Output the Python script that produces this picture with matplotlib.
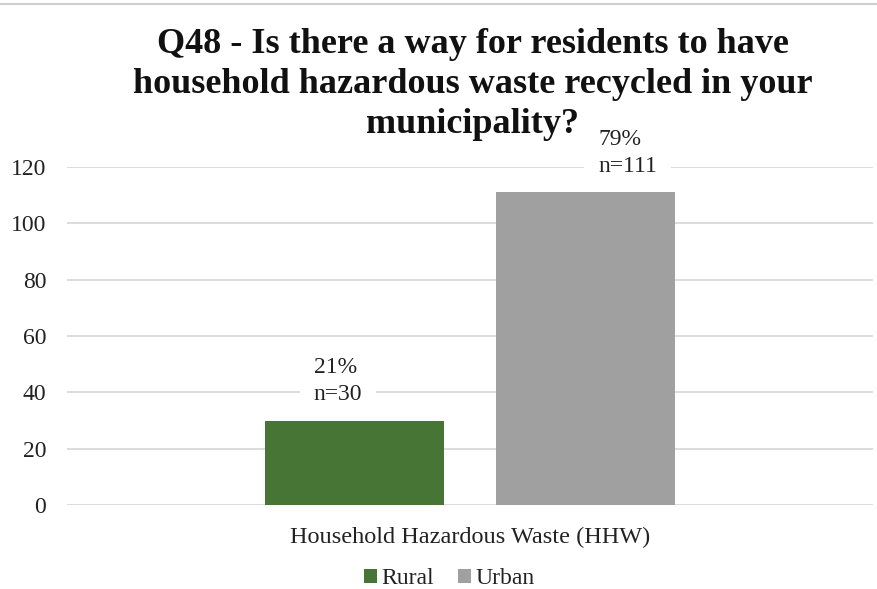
import matplotlib
matplotlib.use("Agg")
import matplotlib.pyplot as plt
from matplotlib.lines import Line2D
from matplotlib.patches import Patch

plt.rcParams['font.family'] = ['Liberation Serif', 'DejaVu Serif']

title_lines = ["Q48 - Is there a way for residents to have",
               "household hazardous waste recycled in your",
               "municipality?"]
category = "Household Hazardous Waste (HHW)"
series = ["Rural", "Urban"]
values = [30, 111]
percents = ["21%", "79%"]
colors = ["#477535", "#a0a0a0"]
yticks = [0, 20, 40, 60, 80, 100, 120]

fig = plt.figure(figsize=(8.78, 5.89), dpi=100)
ax = fig.add_axes([67/878, 1-505/589, (873-67)/878, (505-167)/589])

offsets = [-0.143, 0.143]
width = 0.222
label_dx = [-41, 13]  # pixel offsets of label left edge from bar center
for i, (s, v, p, c) in enumerate(zip(series, values, percents, colors)):
    ax.bar(offsets[i], v, width=width, color=c, label=s, zorder=2)
    ax.annotate(f"{p}\nn={v}", xy=(offsets[i], v), xytext=(label_dx[i], 15),
                textcoords='offset pixels', ha='left', va='bottom',
                multialignment='left', fontsize=17, color='#222222',
                linespacing=1.4, zorder=3,
                bbox=dict(boxstyle='square,pad=0.6', fc='white', ec='none'))

ax.set_xlim(-0.5, 0.5)
ax.set_ylim(0, 120)
ax.set_yticks(yticks)
ax.set_xticks([0])
ax.set_xticklabels([category])
ax.tick_params(axis='y', length=0, pad=15, labelsize=17, labelcolor='#222222')
ax.tick_params(axis='x', length=0, pad=16, labelsize=17.5, labelcolor='#222222')
ax.yaxis.grid(True, color='#d9d9d9', linewidth=1.3, zorder=0)
ax.set_axisbelow(True)
for sp in ax.spines.values():
    sp.set_visible(False)

for line, yb in zip(title_lines, [53, 93, 133]):
    fig.text(473/878, 1-yb/589, line, ha='center', va='baseline', fontsize=26,
             fontweight='bold', color='#111111')

handles = [Patch(facecolor=c, edgecolor='none') for c in colors]
fig.legend(handles, series, loc='center', bbox_to_anchor=(449/878, 1-579/589),
           ncol=2, frameon=False, fontsize=17, handlelength=0.55, handleheight=0.55,
           handletextpad=0.2, columnspacing=1.0, labelcolor='#222222')

fig.add_artist(Line2D([0, 1], [1-4/589, 1-4/589], color='#d0d0d0', linewidth=1.5))

fig.savefig("out.png", dpi=100)
